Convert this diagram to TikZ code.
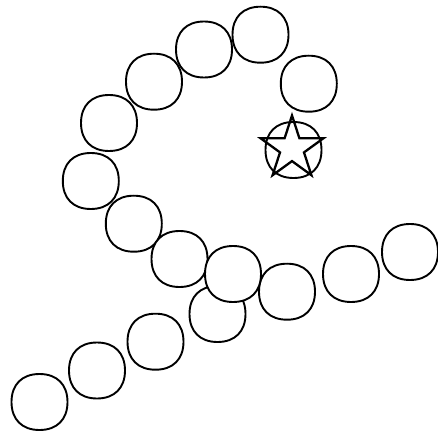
\documentclass[tikz,border=0pt]{standalone}
\usetikzlibrary{shapes.geometric}

\begin{document}
\begin{tikzpicture}[x=1pt, y=-1pt, line width=1.9pt,
    blob/.pic={\draw[fill=white] (28,0) .. controls (28,17.5) and (17.5,28) .. (0,28)
      .. controls (-17.5,28) and (-28,17.5) .. (-28,0) .. controls (-28,-17.5) and (-17.5,-28) .. (0,-28)
      .. controls (17.5,-28) and (28,-17.5) .. cycle;},
    goal/.style={draw, star, star points=5, star point ratio=2.618, minimum size=66pt,
      inner sep=0pt, line width=2.3pt}]
  \useasboundingbox (0,0) rectangle (438,435);
  % spiral, from the goal outwards
  \foreach \x/\y [count=\i] in {293.5/150, 308.8/83.7, 260.5/34.7, 204/49.5,
      154/81.7, 109/123, 90.8/181, 133.8/223.7} {
    \coordinate (s\i) at (\x,\y);
    \pic at (s\i) {blob};
  }
  \node[goal] (goal) at (292,148.5) {};
  % lower line
  \foreach \x/\y [count=\i] in {39.5/402, 97/370.5, 155.5/341.7, 217.5/314,
      410/252, 351/274, 287/291.7} {
    \coordinate (b\i) at (\x,\y);
    \pic at (b\i) {blob};
  }
  \coordinate (s9) at (179.5,259);
  \pic at (s9) {blob};
  \coordinate (s10) at (233,274);
  \pic at (s10) {blob};
\end{tikzpicture}
\end{document}
